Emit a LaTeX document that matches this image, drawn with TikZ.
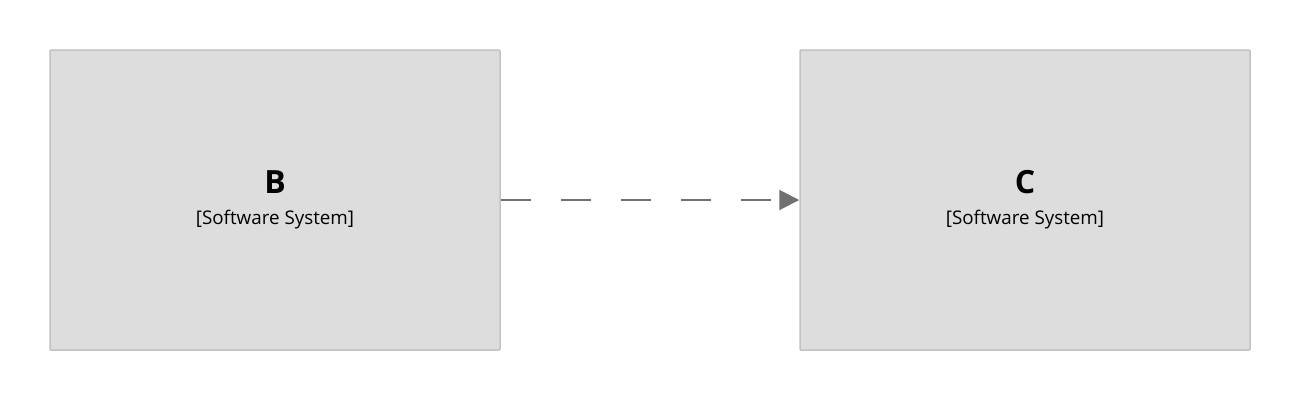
\documentclass[tikz,border=0pt]{standalone}
\usepackage{fontspec}
\setmainfont{Open Sans}
\usetikzlibrary{arrows.meta}
\definecolor{boxfill}{HTML}{DDDDDD}
\definecolor{boxline}{HTML}{C2C2C2}
\definecolor{linkgray}{HTML}{707070}
\tikzset{
  sysbox/.style={draw=boxline, fill=boxfill, line width=1.5pt, rounded corners=1pt, minimum width=450pt, minimum height=300pt, inner sep=0pt},
  title/.style={font=\fontsize{32}{36}\selectfont\bfseries, anchor=base, inner sep=0pt},
  sub/.style={font=\fontsize{18.8}{22}\selectfont, anchor=base, inner sep=0pt},
  link/.style={draw=linkgray, line width=2pt, dash pattern=on 30pt off 30pt, -{Triangle[length=20pt,width=20pt]}}
}
\begin{document}
\begin{tikzpicture}[x=1pt,y=-1pt]
\useasboundingbox (0,0) rectangle (1300,400);
\node[sysbox] (B) at (275,200) {};
\node[sysbox] (C) at (1025,200) {};
\node[title] (Bt) at (275,193) {B};
\node[sub] (Bs) at (275,224.5) {[Software System]};
\node[title] (Ct) at (1025,193) {C};
\node[sub] (Cs) at (1025,224.5) {[Software System]};
\draw[link] (B.east) -- (C.west);
\end{tikzpicture}
\end{document}
